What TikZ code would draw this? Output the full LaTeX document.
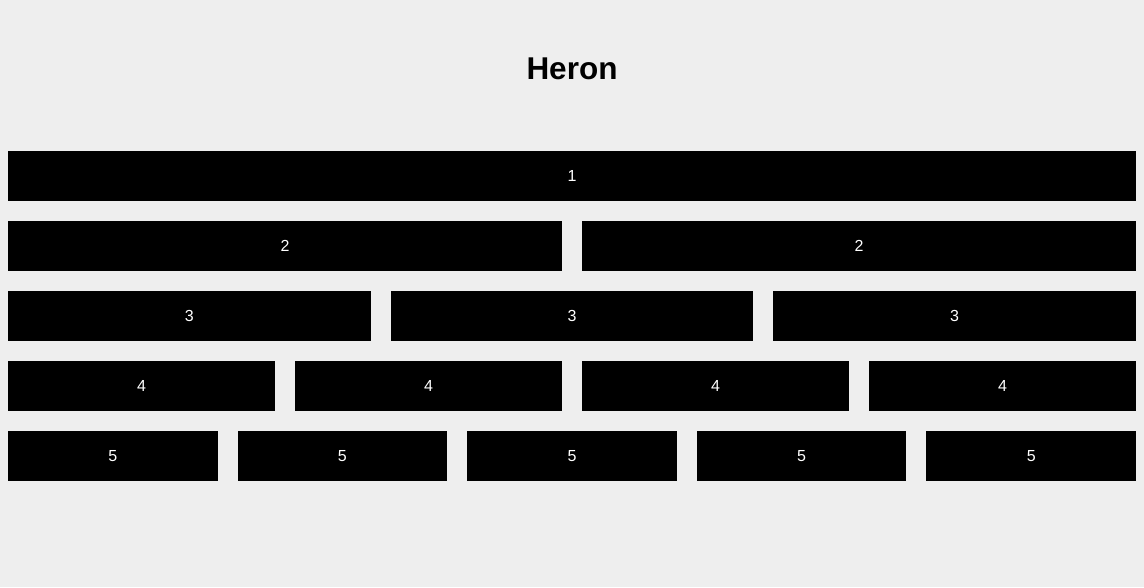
\documentclass[tikz,border=0pt]{standalone}
\usepackage{fontspec}
\setmainfont{Liberation Sans}
\definecolor{bgc}{HTML}{EEEEEE}
\tikzset{
  cell/.style={fill=black, draw=none, inner sep=0pt, minimum height=50pt, text=white, font=\fontsize{16}{16}\selectfont},
  ttl/.style={font=\fontsize{31.5}{31.5}\selectfont\bfseries, inner sep=0pt}
}
\begin{document}
\begin{tikzpicture}[x=1pt,y=-1pt]
\fill[bgc] (0,0) rectangle (1144,587);
\useasboundingbox (0,0) rectangle (1144,587);
\node[ttl] (title) at (572,69) {Heron};
% rows
\foreach \r/\n in {1/1,2/2,3/3,4/4,5/5}{
  \pgfmathsetmacro{\w}{(1128-20*(\n-1))/\n}
  \pgfmathsetmacro{\yc}{176+70*(\r-1)}
  \foreach \k in {1,...,\n}{
    \pgfmathsetmacro{\xc}{8+(\k-1)*(\w+20)+\w/2}
    \node[cell, minimum width=\w pt] (c\r-\k) at (\xc,\yc) {\r};
  }
}
\end{tikzpicture}
\end{document}
